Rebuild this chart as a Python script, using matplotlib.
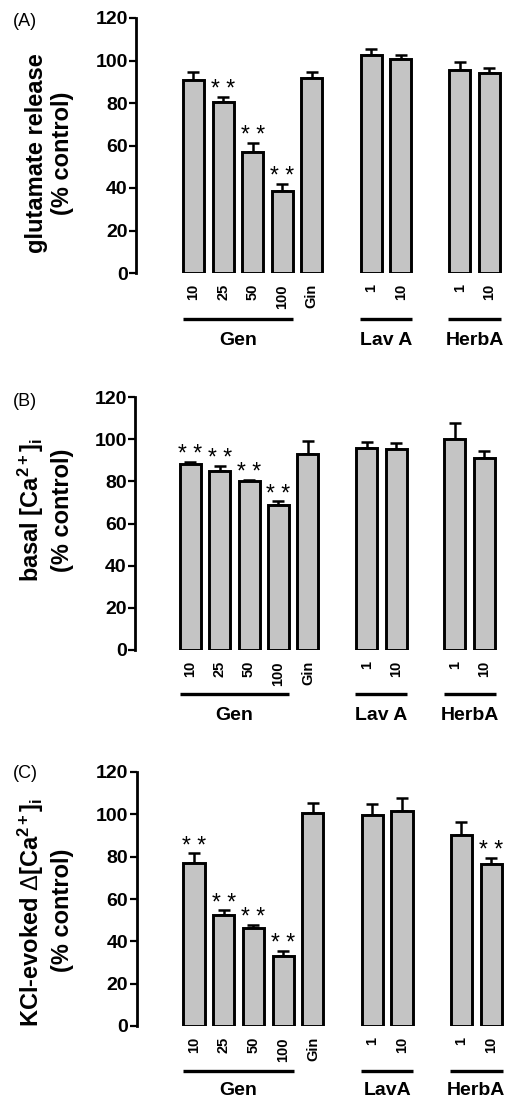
import matplotlib
matplotlib.use("Agg")
import matplotlib.pyplot as plt
import matplotlib.transforms as mtransforms

plt.rcParams['font.family'] = ['Liberation Sans', 'DejaVu Sans']
plt.rcParams['mathtext.fontset'] = 'custom'
plt.rcParams['mathtext.rm'] = 'Liberation Sans'
plt.rcParams['mathtext.bf'] = 'Liberation Sans:bold'
plt.rcParams['mathtext.it'] = 'Liberation Sans:italic'

# ---------------- data ----------------
bar_labels = ["10", "25", "50", "100", "Gin", "1", "10", "1", "10"]
positions = [0, 1, 2, 3, 4, 6, 7, 9, 10]

a_values = [91.0, 80.6, 57.0, 38.7, 91.6, 102.6, 100.5, 95.4, 94.3]
a_errors = [3.4, 2.4, 4.3, 3.2, 2.8, 3.0, 2.1, 4.0, 2.0]
a_sig = [False, True, True, True, False, False, False, False, False]

b_values = [88.1, 85.0, 80.3, 68.6, 93.2, 95.9, 95.4, 100.3, 91.3]
b_errors = [1.1, 2.5, 0.4, 1.9, 5.8, 2.8, 2.6, 7.6, 3.2]
b_sig = [True, True, True, True, False, False, False, False, False]

c_values = [77.1, 52.4, 46.4, 33.0, 100.4, 99.9, 101.5, 90.1, 76.3]
c_errors = [4.4, 2.3, 1.3, 2.5, 5.0, 4.9, 6.4, 6.3, 3.3]
c_sig = [True, True, True, True, False, False, False, False, True]

yticks = [0, 20, 40, 60, 80, 100, 120]

W, H = 509, 1102
fig = plt.figure(figsize=(W / 100, H / 100), dpi=100)

panels = [
    dict(letter="(A)", vals=a_values, errs=a_errors, sig=a_sig,
         ax_px=(136, 273, 18), xlim=(-1.94, 10.66),
         ylab1=r"glutamate release", ylab2="(% control)",
         lab1=(37, 153), lab2=(63, 153), letter_pos=(25, 22),
         gnames=["Gen", "Lav A", "HerbA"], line_y=-0.180, gl_y=-0.263),
    dict(letter="(B)", vals=b_values, errs=b_errors, sig=b_sig,
         ax_px=(135, 650, 397), xlim=(-1.88, 10.84),
         ylab1=r"basal [Ca$^{\mathbf{2+}}$]$_{\mathbf{i}}$", ylab2="(% control)",
         lab1=(31, 510), lab2=(63, 510), letter_pos=(25, 401),
         gnames=["Gen", "Lav A", "HerbA"], line_y=-0.175, gl_y=-0.257),
    dict(letter="(C)", vals=c_values, errs=c_errors, sig=c_sig,
         ax_px=(136.7, 1026, 772), xlim=(-1.93, 10.60),
         ylab1=r"KCl-evoked $\Delta$[Ca$^{\mathbf{2+}}$]$_{\mathbf{i}}$", ylab2="(% control)",
         lab1=(31, 912), lab2=(63, 910), letter_pos=(25, 773),
         gnames=["Gen", "LavA", "HerbA"], line_y=-0.176, gl_y=-0.255),
]

bw = 0.71
group_spans = [(0 - bw / 2, 3 + bw / 2), (6 - bw / 2 - 0.03, 7 + bw / 2 + 0.03),
               (9 - bw / 2 - 0.03, 10 + bw / 2 + 0.03)]
group_centers = [(s[0] + s[1]) / 2 for s in group_spans]

for p in panels:
    left, y0, y120 = p["ax_px"]
    ax = fig.add_axes([left / W, (H - y0) / H, (W - left) / W, (y0 - y120) / H])
    ax.bar(positions, p["vals"], width=bw, color="#c4c4c4", edgecolor="black",
           linewidth=2.1, zorder=3)
    ax.errorbar(positions, p["vals"], yerr=[[0] * len(p["errs"]), p["errs"]],
                fmt="none", ecolor="black", elinewidth=1.8, capsize=4.5,
                capthick=1.8, zorder=2)
    for x, v, e, s in zip(positions, p["vals"], p["errs"], p["sig"]):
        if s:
            ax.annotate("* *", xy=(x, v + e), xytext=(0, 0.5), textcoords="offset points",
                        ha="center", va="baseline", fontsize=16.5)
    ax.set_ylim(0, 120)
    ax.set_xlim(*p["xlim"])
    ax.set_yticks(yticks)
    ax.set_yticklabels([str(t) for t in yticks], fontsize=14, fontweight="bold")
    ax.tick_params(axis="y", length=5, width=1.6, pad=1)
    ax.set_xticks(positions)
    ax.set_xticklabels(bar_labels, rotation=90, fontsize=10.5, fontweight="bold")
    ax.tick_params(axis="x", length=0, pad=8)
    for sp in ["top", "right", "bottom"]:
        ax.spines[sp].set_visible(False)
    ax.spines["left"].set_linewidth(2.0)
    ax.set_facecolor("none")

    trans = mtransforms.blended_transform_factory(ax.transData, ax.transAxes)
    for (x0, x1), xc, name in zip(group_spans, group_centers, p["gnames"]):
        ax.plot([x0, x1], [p["line_y"], p["line_y"]], color="black", lw=2.4,
                transform=trans, clip_on=False, solid_capstyle="butt")
        ax.text(xc, p["gl_y"], name, transform=trans, ha="center", va="center",
                fontsize=14, fontweight="bold")

    fig.text(p["lab1"][0] / W, 1 - p["lab1"][1] / H, p["ylab1"], rotation=90,
             ha="center", va="center", fontsize=17, fontweight="bold")
    fig.text(p["lab2"][0] / W, 1 - p["lab2"][1] / H, p["ylab2"], rotation=90,
             ha="center", va="center", fontsize=17, fontweight="bold")
    fig.text(p["letter_pos"][0] / W, 1 - p["letter_pos"][1] / H, p["letter"],
             ha="center", va="center", fontsize=13)

fig.savefig("out.png", dpi=100, facecolor="white")
